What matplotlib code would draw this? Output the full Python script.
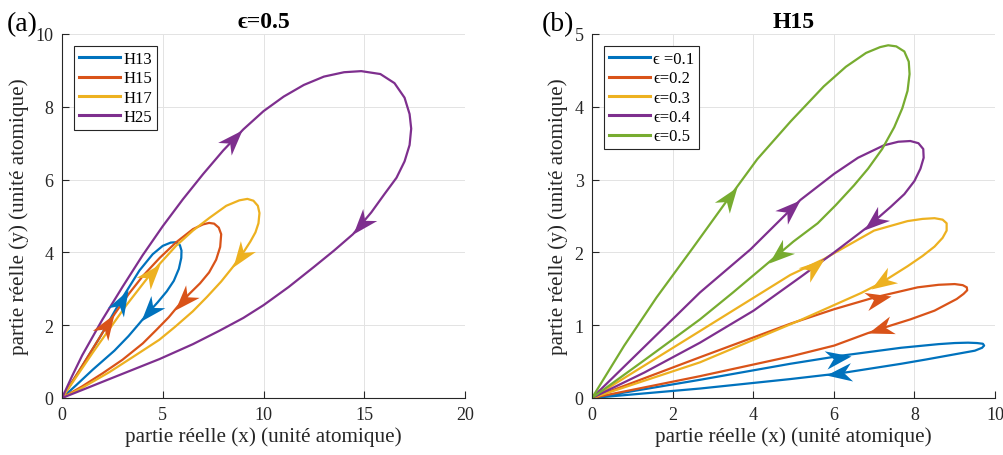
import numpy as np
import matplotlib.pyplot as plt
from matplotlib.path import Path
from matplotlib.markers import MarkerStyle
from matplotlib.transforms import Affine2D

plt.rcParams['font.family'] = ['Liberation Serif', 'DejaVu Serif']

COLORS = ['#0072BD', '#D95319', '#EDB120', '#7E2F8E', '#77AC30']

# ---- panel (a): eps = 0.5, harmonics ----
labels_a = ['H13', 'H15', 'H17', 'H25']
h13_x = [0, 0.86, 1.86, 2.94, 3.84, 4.5, 5.0, 5.4, 5.67, 5.85, 5.93, 5.92, 5.8, 5.55, 5.2, 4.75, 4.26,
         3.84, 3.3, 2.6, 1.53, 0.7, 0]
h13_y = [0, 0.75, 1.65, 2.7, 3.5, 3.95, 4.18, 4.27, 4.28, 4.2, 4.05, 3.85, 3.55, 3.22, 2.93, 2.63, 2.33,
         2.05, 1.7, 1.3, 0.78, 0.35, 0]
h15_x = [0, 1.0, 2.0, 2.6, 3.3, 4.01, 4.85, 5.67, 6.5, 7.0, 7.3, 7.55, 7.78, 7.9, 7.85, 7.65, 7.3, 6.85,
         6.3, 5.75, 5.3, 4.7, 4.01, 3.0, 2.02, 1.0, 0]
h15_y = [0, 0.88, 1.78, 2.3, 2.85, 3.35, 3.85, 4.28, 4.64, 4.77, 4.81, 4.79, 4.68, 4.5, 4.15, 3.8, 3.45,
         3.15, 2.85, 2.52, 2.22, 1.88, 1.5, 1.05, 0.68, 0.32, 0]
h17_x = [0, 1.53, 3.18, 4.26, 4.84, 5.66, 6.5, 7.32, 8.15, 8.8, 9.2, 9.5, 9.72, 9.8, 9.75, 9.6, 9.35,
         9.06, 8.48, 7.9, 7.2, 6.49, 5.6, 4.83, 3.5, 2.35, 1.0, 0]
h17_y = [0, 1.25, 2.54, 3.31, 3.68, 4.18, 4.6, 4.95, 5.28, 5.43, 5.47, 5.42, 5.28, 5.08, 4.8, 4.55, 4.3,
         4.05, 3.6, 3.2, 2.78, 2.38, 1.95, 1.6, 1.12, 0.71, 0.28, 0]
h25_x = [0, 0.5, 1, 2, 3, 4, 5, 6, 7, 8, 9, 10, 11, 12, 13, 14, 14.85, 15.8, 16.5, 17.0, 17.25, 17.33,
         17.25, 17.0, 16.6, 16.0, 15.35, 14.44, 13.5, 12.5, 11.25, 10.0, 9.0, 7.82, 6.5, 4.84, 2.35, 1.0, 0]
h25_y = [0, 0.6, 1.17, 2.15, 3.05, 3.92, 4.72, 5.46, 6.15, 6.8, 7.38, 7.88, 8.28, 8.6, 8.83, 8.95, 8.98,
         8.9, 8.65, 8.25, 7.8, 7.4, 6.95, 6.5, 6.05, 5.6, 5.1, 4.5, 4.05, 3.6, 3.05, 2.55, 2.2, 1.85, 1.48,
         1.07, 0.52, 0.22, 0]
# arrow heads: (tail x, tail y, tip x, tip y)
arrows_a = [
    [(2.77, 2.48, 3.27, 2.97), (4.67, 2.58, 3.93, 2.11)],
    [(2.19, 1.95, 2.6, 2.3), (6.25, 2.82, 5.6, 2.43)],
    [(4.26, 3.31, 4.84, 3.68), (9.06, 4.05, 8.48, 3.6)],
    [(8.06, 6.84, 8.94, 7.36), (15.2, 4.99, 14.44, 4.5)],
]

# ---- panel (b): H15, eps = 0.1 ... 0.5 ----
labels_b = ['ϵ =0.1', 'ϵ=0.2', 'ϵ=0.3', 'ϵ=0.4', 'ϵ=0.5']
e1_x = [0, 2.68, 4.92, 6.17, 7.67, 8.6, 9.0, 9.33, 9.55, 9.7, 9.73, 9.68, 9.5, 9.0, 8.3, 7.67, 6.17,
        4.92, 2.68, 0]
e1_y = [0, 0.25, 0.47, 0.58, 0.69, 0.74, 0.755, 0.76, 0.755, 0.745, 0.72, 0.69, 0.65, 0.6, 0.53, 0.47,
        0.34, 0.26, 0.13, 0]
e2_x = [0, 2.68, 4.92, 6.01, 7.0, 8.08, 8.6, 9.0, 9.2, 9.3, 9.31, 9.22, 9.05, 8.5, 7.9, 7.38, 6.84,
        6.01, 4.92, 2.68, 0]
e2_y = [0, 0.56, 1.02, 1.22, 1.38, 1.52, 1.555, 1.565, 1.55, 1.52, 1.48, 1.43, 1.36, 1.2, 1.08, 0.99,
        0.89, 0.72, 0.57, 0.3, 0]
e3_x = [0, 2.68, 4.92, 5.76, 6.17, 7.0, 7.83, 8.2, 8.5, 8.7, 8.8, 8.8, 8.7, 8.5, 8.2, 7.83, 7.17, 6.67,
        5.17, 4.01, 2.68, 0]
e3_y = [0, 0.92, 1.69, 1.91, 2.04, 2.3, 2.43, 2.46, 2.47, 2.45, 2.4, 2.3, 2.2, 2.08, 1.95, 1.81, 1.58,
        1.44, 1.07, 0.8, 0.49, 0]
e4_x = [0, 2.68, 3.93, 5.17, 6.01, 6.6, 7.24, 7.6, 7.9, 8.1, 8.22, 8.23, 8.15, 8.0, 7.75, 7.42, 6.84,
        6.01, 5.17, 4.01, 2.68, 1.3, 0]
e4_y = [0, 1.45, 2.04, 2.72, 3.08, 3.3, 3.47, 3.52, 3.53, 3.5, 3.42, 3.3, 3.15, 2.98, 2.8, 2.63, 2.35,
        2.0, 1.66, 1.2, 0.76, 0.35, 0]
e5_x = [0, 0.8, 1.6, 2.5, 3.36, 4.1, 4.93, 5.75, 6.3, 6.8, 7.15, 7.35, 7.55, 7.75, 7.86, 7.88, 7.83,
        7.7, 7.5, 7.2, 6.85, 6.5, 6.05, 5.6, 5.0, 4.38, 3.5, 2.68, 1.3, 0]
e5_y = [0, 0.72, 1.38, 2.06, 2.72, 3.28, 3.8, 4.28, 4.55, 4.74, 4.82, 4.845, 4.83, 4.76, 4.62, 4.45,
        4.22, 3.98, 3.72, 3.42, 3.15, 2.92, 2.65, 2.4, 2.15, 1.86, 1.45, 1.08, 0.52, 0]
arrows_b = [
    [(5.84, 0.53, 6.42, 0.58), (6.38, 0.35, 5.8, 0.31)],
    [(6.84, 1.33, 7.42, 1.40), (7.38, 0.99, 6.84, 0.89)],
    [(5.17, 1.65, 5.76, 1.91), (7.42, 1.68, 6.92, 1.5)],
    [(4.72, 2.49, 5.17, 2.72), (7.09, 2.47, 6.75, 2.31)],
    [(3.27, 2.65, 3.6, 2.9), (4.76, 2.04, 4.38, 1.86)],
]

# notched arrow head, tip at the origin
head = Path([(0, 0), (-1, 0.36), (-0.7, 0), (-1, -0.36), (0, 0)],
            [Path.MOVETO, Path.LINETO, Path.LINETO, Path.LINETO, Path.CLOSEPOLY])


def draw_panel(ax, curves, labels, arrows, xlim, ylim, xticks, yticks, title):
    ax.set_xlim(xlim)
    ax.set_ylim(ylim)
    for (cx, cy), lab, col in zip(curves, labels, COLORS):
        ax.plot(cx, cy, color=col, lw=1.6, label=lab, solid_joinstyle='round')
    for arr, col in zip(arrows, COLORS):
        for x0, y0, x1, y1 in arr:
            p0 = ax.transData.transform((x0, y0))
            p1 = ax.transData.transform((x1, y1))
            ang = np.degrees(np.arctan2(p1[1] - p0[1], p1[0] - p0[0]))
            m = MarkerStyle(head, transform=Affine2D().rotate_deg(ang))
            ax.plot([x1], [y1], marker=m, ms=37, color=col, mew=0, linestyle='none')
    ax.set_xticks(xticks)
    ax.set_yticks(yticks)
    ax.grid(True, color='#e3e3e3', lw=0.7)
    ax.set_axisbelow(True)
    ax.spines['top'].set_visible(False)
    ax.spines['right'].set_visible(False)
    for s in ['left', 'bottom']:
        ax.spines[s].set_color('#262626')
        ax.spines[s].set_linewidth(0.8)
    ax.tick_params(direction='in', length=5, width=0.8, labelsize=13, colors='#262626',
                   pad=6)
    ax.set_xlabel('partie réelle (x) (unité atomique)', fontsize=15.2, color='#262626', labelpad=2)
    ax.set_ylabel('partie réelle (y) (unité atomique)', fontsize=15.2, color='#262626', labelpad=5)
    ax.set_title(title, fontsize=17, fontweight='bold', pad=5)
    leg = ax.legend(loc='upper left', bbox_to_anchor=(0.03, 0.967), borderaxespad=0,
                    fontsize=12, handlelength=2.45, handletextpad=0.2, labelspacing=0.2,
                    fancybox=False, framealpha=1, edgecolor='#262626', borderpad=0.3)
    leg.get_frame().set_linewidth(0.8)
    for ln in leg.get_lines():
        ln.set_linewidth(2.2)


fig = plt.figure(figsize=(10.04, 4.56), dpi=100)
ax1 = fig.add_axes([62 / 1004, 57 / 456, 403 / 1004, 364 / 456])
ax2 = fig.add_axes([592 / 1004, 57 / 456, 403 / 1004, 364 / 456])

draw_panel(ax1, [(h13_x, h13_y), (h15_x, h15_y), (h17_x, h17_y), (h25_x, h25_y)],
           labels_a, arrows_a, (0, 20), (0, 10), [0, 5, 10, 15, 20], [0, 2, 4, 6, 8, 10], 'ϵ=0.5')
draw_panel(ax2, [(e1_x, e1_y), (e2_x, e2_y), (e3_x, e3_y), (e4_x, e4_y), (e5_x, e5_y)],
           labels_b, arrows_b, (0, 10), (0, 5), [0, 2, 4, 6, 8, 10], [0, 1, 2, 3, 4, 5], 'H15')

fig.text(7 / 1004, 1 - 31 / 456, '(a)', fontsize=20)
fig.text(542 / 1004, 1 - 31 / 456, '(b)', fontsize=20)

fig.savefig('out.png', dpi=100)
